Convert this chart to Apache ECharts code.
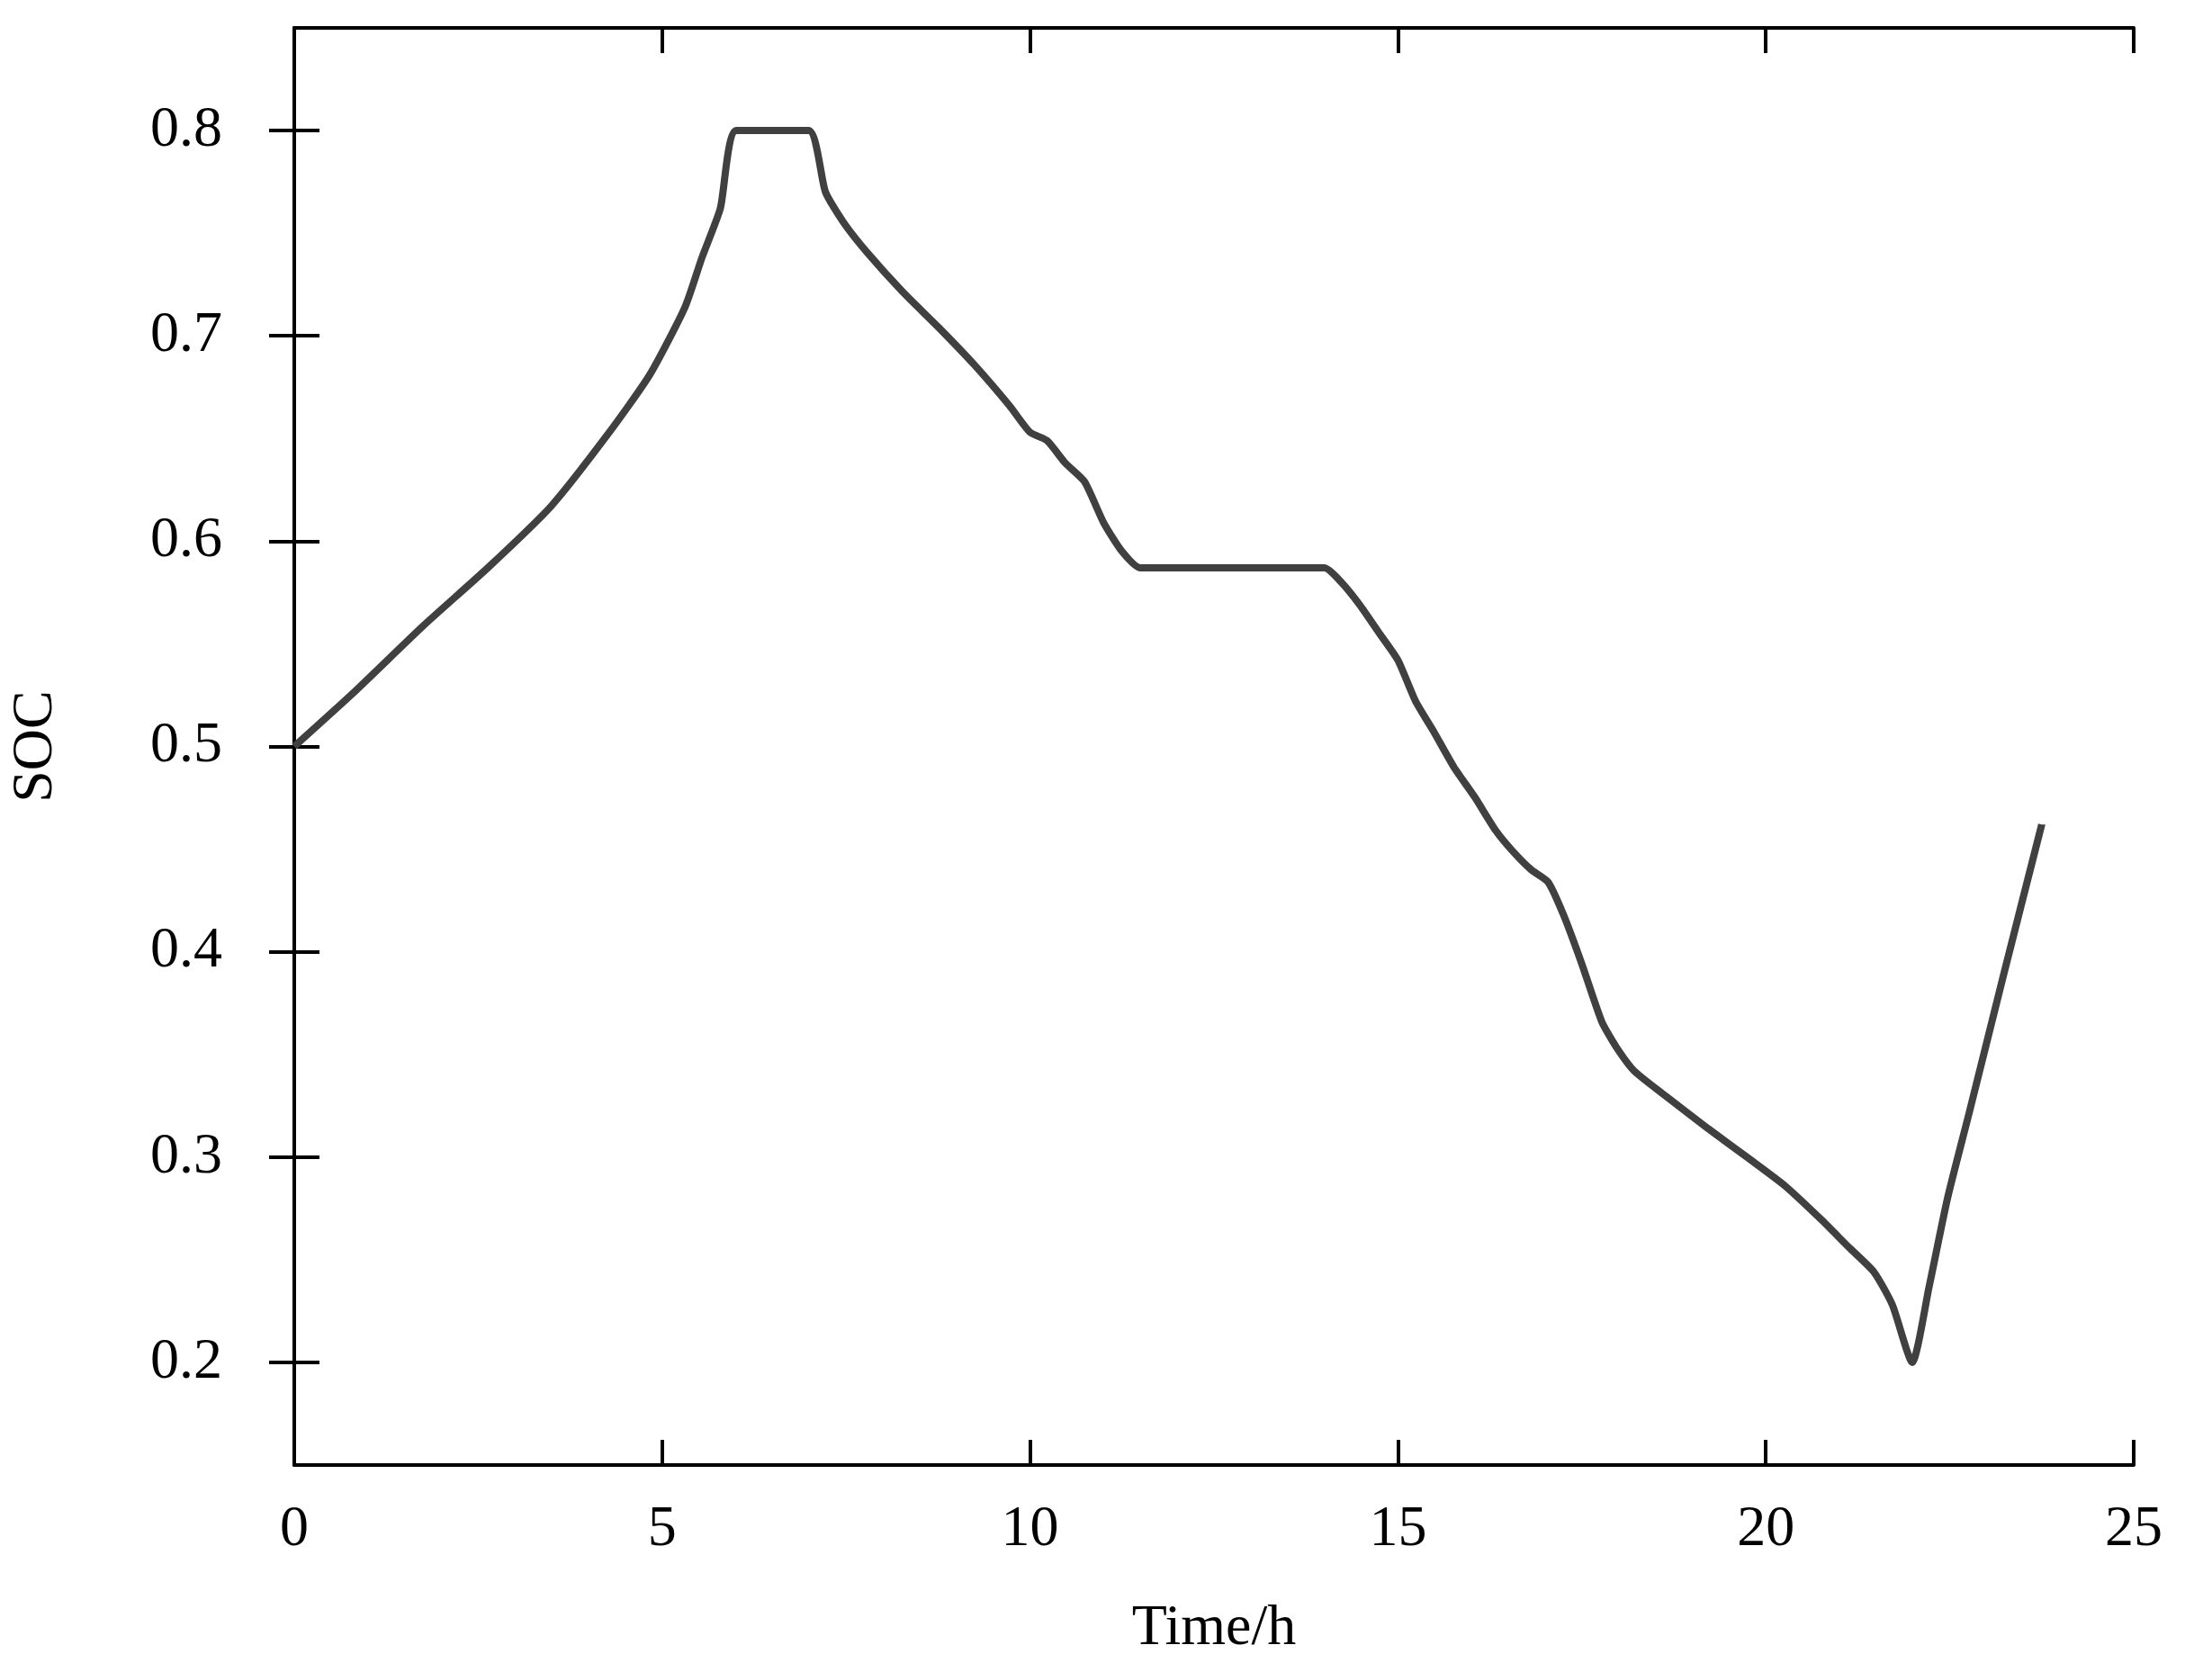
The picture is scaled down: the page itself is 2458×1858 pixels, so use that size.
<!DOCTYPE html>
<html><head><meta charset="utf-8">
<script src="https://cdn.jsdelivr.net/npm/echarts@6/dist/echarts.min.js"></script>
<style>html,body{margin:0;padding:0;background:#fff}#c{width:2458px;height:1858px}</style>
</head><body><div id="c"></div>
<script>
const timeH = [0,0.8,1.76,2.63,3.49,4.26,4.83,5.31,5.54,5.79,6.01,6.99,7.22,7.47,7.8,8.28,8.76,9.24,9.72,10.0,10.23,10.48,10.74,11.0,11.25,11.5,14.0,14.23,14.48,14.75,15.0,15.24,15.49,15.76,16.05,16.33,16.56,16.81,17.04,17.25,17.5,17.77,17.96,18.21,18.63,19.21,19.78,20.26,20.74,21.13,21.47,21.72,21.99,22.22,22.47,22.76,23.24,23.75];
const soc = [0.50,0.526,0.559,0.587,0.617,0.652,0.681,0.714,0.738,0.762,0.8,0.8,0.770,0.755,0.740,0.721,0.704,0.686,0.666,0.653,0.649,0.638,0.629,0.609,0.595,0.587,0.587,0.580,0.569,0.555,0.542,0.522,0.507,0.490,0.475,0.459,0.449,0.440,0.434,0.418,0.394,0.366,0.354,0.342,0.330,0.314,0.299,0.286,0.270,0.256,0.244,0.228,0.2,0.237,0.280,0.321,0.390,0.462];
const yTicks = [0.2,0.3,0.4,0.5,0.6,0.7,0.8];
const data = timeH.map((t,i)=>[t,soc[i]]);
const font = "'Liberation Serif','DejaVu Serif',serif";
const axLine = () => ({show:true,lineStyle:{color:'#000',width:4}});
const tick = (cv) => { const t = {show:true,inside:true,length:28,lineStyle:{color:'#000',width:4}}; if(cv) t.customValues = cv.slice(); return t; };
const chart = echarts.init(document.getElementById('c'));
chart.setOption({
  animation:false,
  grid:{left:326,right:87,top:31,bottom:230},
  xAxis:[{type:'value',min:0,max:25,interval:5,axisLine:axLine(),axisTick:tick(),splitLine:{show:false},
    axisLabel:{color:'#000',fontSize:64,fontFamily:font,margin:40},
    name:'Time/h',nameLocation:'middle',nameGap:150,nameTextStyle:{color:'#000',fontSize:64,fontFamily:font}},
   {type:'value',position:'top',min:0,max:25,interval:5,axisLine:axLine(),axisTick:tick(),axisLabel:{show:false},splitLine:{show:false}}],
  yAxis:[{type:'value',min:0.15,max:0.85,axisLine:axLine(),axisTick:tick(yTicks),splitLine:{show:false},
    axisLabel:{color:'#000',fontSize:64,fontFamily:font,margin:80,customValues:yTicks.slice(),formatter:v=>v.toFixed(1)},
    name:'SOC',nameLocation:'middle',nameGap:255,nameTextStyle:{color:'#000',fontSize:64,fontFamily:font}},
   {type:'value',position:'right',min:0.15,max:0.85,axisLine:axLine(),axisTick:tick(yTicks),axisLabel:{show:false},splitLine:{show:false}}],
  series:[{type:'line',data:data,showSymbol:false,smooth:0.2,lineStyle:{color:'#404040',width:8}}]
});
</script></body></html>
